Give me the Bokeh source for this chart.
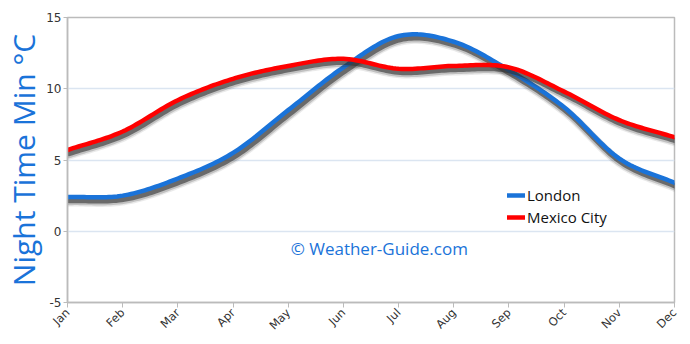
import numpy as np
from bokeh.plotting import figure
from bokeh.models import Range1d, FixedTicker, Legend, LegendItem, Label, Title
from bokeh.embed import file_html
from bokeh.resources import INLINE

months = ["Jan", "Feb", "Mar", "Apr", "May", "Jun", "Jul", "Aug", "Sep", "Oct", "Nov", "Dec"]
london = [2.4, 2.5, 3.7, 5.5, 8.5, 11.5, 13.7, 13.3, 11.3, 8.7, 5.1, 3.4]
mexico = [5.7, 7.0, 9.2, 10.7, 11.6, 12.1, 11.4, 11.6, 11.5, 9.8, 7.8, 6.6]
y_ticks = [-5, 0, 5, 10, 15]

BLUE = "#1a73d9"
RED = "#ff0000"


def smooth(xs, ys, n=20):
    # Catmull-Rom spline through the data points (rendering only)
    xs = np.asarray(xs, float)
    ys = np.asarray(ys, float)
    px = np.concatenate([[2 * xs[0] - xs[1]], xs, [2 * xs[-1] - xs[-2]]])
    py = np.concatenate([[2 * ys[0] - ys[1]], ys, [2 * ys[-1] - ys[-2]]])
    ox, oy = [], []
    for i in range(1, len(px) - 2):
        t = np.linspace(0, 1, n, endpoint=False)
        for arr, out in ((px, ox), (py, oy)):
            p0, p1, p2, p3 = arr[i - 1], arr[i], arr[i + 1], arr[i + 2]
            out.extend(0.5 * ((2 * p1) + (-p0 + p2) * t + (2 * p0 - 5 * p1 + 4 * p2 - p3) * t ** 2
                              + (-p0 + 3 * p1 - 3 * p2 + p3) * t ** 3))
    ox.append(xs[-1])
    oy.append(ys[-1])
    return np.array(ox), np.array(oy)


x = list(range(len(months)))

p = figure(width=690, height=344, output_backend="svg", toolbar_location=None,
           x_range=Range1d(0, 11), y_range=Range1d(-5, 15),
           min_border_left=62, min_border_right=16, min_border_top=17, min_border_bottom=42)
p.background_fill_color = "white"
p.border_fill_color = "white"
p.outline_line_color = "#bbbbbb"
p.outline_line_width = 1.5

p.xgrid.grid_line_color = None
p.ygrid.grid_line_color = "#dbe5f1"
p.ygrid.grid_line_width = 1.5

p.xaxis.ticker = FixedTicker(ticks=x)
p.xaxis.major_label_overrides = {i: m for i, m in enumerate(months)}
p.xaxis.major_label_orientation = np.pi / 4
p.yaxis.ticker = FixedTicker(ticks=y_ticks)
p.yaxis.major_label_overrides = {t: str(t) for t in y_ticks}
for ax in (p.xaxis, p.yaxis):
    ax.axis_line_color = "#bbbbbb"
    ax.axis_line_width = 1.5
    ax.major_tick_line_color = "#bbbbbb"
    ax.major_tick_in = 0
    ax.major_tick_out = 5
    ax.minor_tick_line_color = None
    ax.major_label_text_font = "DejaVu Sans"
    ax.major_label_text_color = "#333333"
p.xaxis.major_label_text_font_size = "11.5px"
p.xaxis.major_label_standoff = 3
p.yaxis.major_tick_out = 4
p.yaxis.major_label_text_font_size = "12px"
p.yaxis.major_label_standoff = 2

# y axis title in the left panel
p.add_layout(Title(text="Night Time Min °C", align="center", text_font="Open Sans",
                   text_font_size="30px", text_font_style="normal", text_color=BLUE,
                   text_line_height=0.75, standoff=0, offset=0), "left")

renderers = []
for ys, col in ((london, BLUE), (mexico, RED)):
    sx, sy = smooth(x, ys)
    # soft shadow
    for w, a, off in ((10, 0.10, 0.32), (8, 0.22, 0.29), (5, 0.6, 0.26)):
        p.line(sx + 0.03, sy - off, line_color="#303030", line_width=w, line_alpha=a,
               line_cap="round", line_join="round")
    renderers.append(p.line(sx, sy, line_color=col, line_width=4.5, line_cap="round", line_join="round"))

legend = Legend(items=[LegendItem(label="London", renderers=[renderers[0]]),
                       LegendItem(label="Mexico City", renderers=[renderers[1]])],
                location=(440, 75))
legend.background_fill_alpha = 0
legend.border_line_color = None
legend.label_text_font = "Open Sans"
legend.label_text_font_size = "15px"
legend.label_text_color = "#111111"
legend.glyph_width = 18
legend.label_standoff = 2
legend.spacing = 2
legend.padding = 0
p.add_layout(legend, "center")

p.add_layout(Label(x=5.65, y=-1.2, text="© Weather-Guide.com", text_align="center",
                   text_baseline="middle", text_font="Open Sans", text_font_size="17px",
                   text_color=BLUE))

open("out.html", "w").write(file_html(p, INLINE))
